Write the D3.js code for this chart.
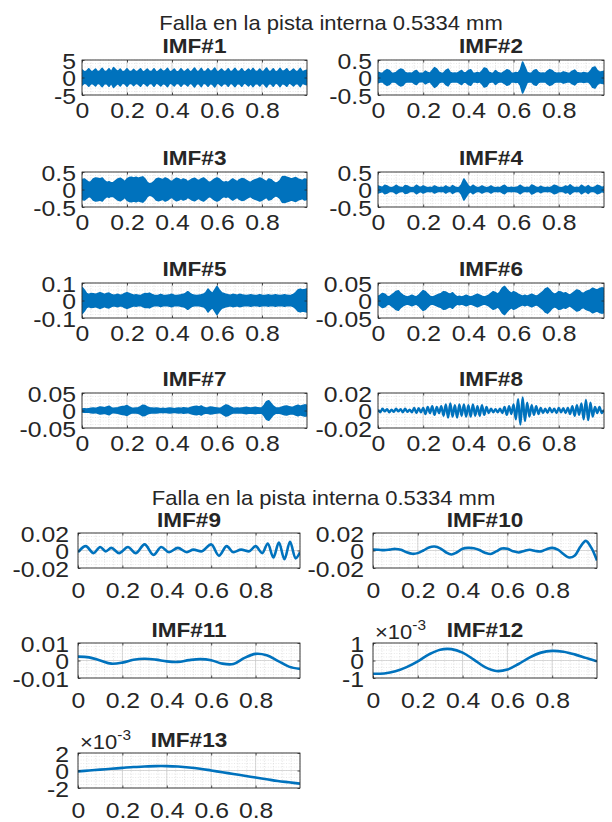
<!DOCTYPE html>
<html><head><meta charset="utf-8">
<script src="https://cdn.jsdelivr.net/npm/d3@7"></script>
<style>
body{margin:0;background:#fff}
text{font-family:"Liberation Sans",Arial,Helvetica,sans-serif;fill:#262626}
</style>
</head><body>
<svg id="c" width="612" height="822" xmlns="http://www.w3.org/2000/svg"></svg>
<script>
// ---------------- DATA ----------------
const figTitle = "Falla en la pista interna 0.5334 mm";
const xTicks = [0, 0.2, 0.4, 0.6, 0.8];
const xTickLabels = ["0", "0.2", "0.4", "0.6", "0.8"];

// envelope amplitudes (dense IMFs drawn as filled bands), sampled every 0.01 s
const imf1Amp = [2.2,1.6,1.8,2.5,1.7,1.8,2.4,1.6,1.9,2.6,1.7,1.8,2.5,1.6,2.8,2.2,1.7,2.4,1.6,1.8,2.5,1.7,1.7,2.3,1.6,1.9,2.5,1.6,1.8,2.4,1.7,1.7,2.5,1.6,1.8,2.4,1.7,1.9,2.6,1.6,1.8,2.4,1.6,1.7,2.5,1.7,1.8,2.4,1.6,1.9,2.7,1.7,1.8,2.6,1.6,1.8,2.5,1.7,1.9,2.7,1.6,1.8,2.4,1.7,1.8,2.5,1.6,1.9,2.6,1.7,1.8,2.5,1.6,1.8,2.4,1.7,2.6,1.8,1.7,2.4,1.6,1.9,2.7,1.7,1.8,2.5,1.6,1.8,2.6,1.7,1.9,2.5,1.6,1.8,2.4,1.7,1.8,2.6,1.6,1.9,2.1];
const imf2Amp = [0.15,0.13,0.12,0.18,0.22,0.2,0.13,0.12,0.14,0.2, 0.24,0.22,0.14,0.12,0.13,0.12,0.17,0.2,0.13,0.12, 0.12,0.18,0.14,0.12,0.2,0.28,0.24,0.15,0.12,0.13, 0.2,0.24,0.14,0.12,0.13,0.12,0.16,0.2,0.13,0.14, 0.2,0.22,0.13,0.12,0.14,0.12,0.18,0.27,0.25,0.15, 0.13,0.12,0.2,0.14,0.12,0.13,0.17,0.22,0.2,0.13, 0.12,0.14,0.13,0.22,0.44,0.3,0.14,0.12,0.13,0.2, 0.22,0.14,0.12,0.13,0.12,0.18,0.22,0.2,0.14,0.12, 0.13,0.12,0.16,0.14,0.12,0.13,0.18,0.21,0.14,0.13, 0.12,0.14,0.13,0.12,0.18,0.28,0.3,0.2,0.15,0.16,0.18];
const imf3Amp = [0.28,0.3,0.25,0.2,0.22,0.3,0.33,0.32,0.3,0.33, 0.25,0.2,0.22,0.19,0.2,0.25,0.3,0.32,0.28,0.22, 0.3,0.34,0.35,0.33,0.35,0.32,0.34,0.36,0.3,0.2, 0.16,0.18,0.22,0.3,0.32,0.3,0.28,0.33,0.3,0.25, 0.22,0.28,0.32,0.3,0.26,0.3,0.28,0.22,0.26,0.3, 0.32,0.28,0.25,0.3,0.33,0.28,0.22,0.2,0.25,0.3, 0.33,0.3,0.24,0.2,0.22,0.2,0.25,0.3,0.26,0.22, 0.28,0.31,0.3,0.26,0.22,0.2,0.25,0.28,0.3,0.33, 0.3,0.26,0.22,0.3,0.28,0.22,0.18,0.2,0.25,0.36, 0.37,0.35,0.33,0.3,0.32,0.34,0.3,0.28,0.26,0.3,0.28];
const imf4Amp = [0.1,0.08,0.06,0.12,0.1,0.06,0.05,0.07,0.12,0.08, 0.06,0.05,0.11,0.1,0.06,0.05,0.06,0.12,0.08,0.06, 0.1,0.07,0.05,0.06,0.05,0.1,0.07,0.05,0.06,0.05, 0.1,0.06,0.05,0.11,0.07,0.05,0.06,0.14,0.3,0.2, 0.1,0.06,0.12,0.08,0.05,0.06,0.1,0.07,0.05,0.06, 0.1,0.06,0.05,0.06,0.05,0.09,0.12,0.06,0.05,0.06, 0.05,0.06,0.08,0.12,0.07,0.05,0.06,0.05,0.13,0.1, 0.06,0.05,0.09,0.06,0.05,0.06,0.05,0.08,0.12,0.1, 0.06,0.05,0.06,0.1,0.07,0.13,0.08,0.05,0.06,0.05, 0.12,0.08,0.06,0.11,0.06,0.05,0.07,0.12,0.1,0.06,0.08];
const imf5Amp = [0.075,0.06,0.04,0.035,0.04,0.038,0.035,0.04,0.045,0.04, 0.035,0.04,0.042,0.035,0.03,0.032,0.035,0.03,0.033,0.04, 0.045,0.04,0.035,0.03,0.032,0.03,0.028,0.035,0.04,0.038, 0.042,0.035,0.03,0.028,0.03,0.035,0.03,0.028,0.03,0.032, 0.035,0.03,0.028,0.03,0.032,0.035,0.04,0.05,0.04,0.032, 0.03,0.028,0.03,0.032,0.035,0.045,0.065,0.05,0.04,0.06, 0.08,0.06,0.045,0.04,0.035,0.032,0.03,0.035,0.033,0.03, 0.035,0.032,0.03,0.028,0.03,0.032,0.03,0.028,0.03,0.033, 0.03,0.028,0.03,0.032,0.028,0.03,0.032,0.03,0.028,0.03, 0.032,0.03,0.028,0.03,0.035,0.045,0.06,0.065,0.06,0.062,0.065];
const imf6Amp = [0.012,0.015,0.02,0.018,0.012,0.01,0.015,0.02,0.026,0.028, 0.02,0.015,0.012,0.01,0.012,0.015,0.012,0.01,0.015,0.022, 0.028,0.025,0.018,0.012,0.01,0.012,0.015,0.018,0.02,0.025, 0.024,0.02,0.018,0.022,0.015,0.01,0.012,0.01,0.012,0.015, 0.012,0.01,0.012,0.015,0.018,0.015,0.012,0.01,0.012,0.015, 0.02,0.025,0.022,0.018,0.025,0.035,0.04,0.032,0.025,0.02, 0.025,0.022,0.018,0.015,0.012,0.015,0.012,0.015,0.018,0.015, 0.012,0.015,0.02,0.025,0.033,0.036,0.03,0.022,0.018,0.02, 0.025,0.024,0.02,0.022,0.018,0.015,0.02,0.025,0.03,0.028, 0.022,0.02,0.025,0.028,0.03,0.035,0.032,0.03,0.034,0.036,0.035];
const imf7Amp = [0.004,0.005,0.004,0.005,0.006,0.007,0.006,0.008,0.01,0.009, 0.008,0.01,0.012,0.008,0.006,0.007,0.008,0.01,0.011,0.012, 0.014,0.01,0.007,0.006,0.007,0.008,0.011,0.015,0.014,0.01, 0.008,0.007,0.006,0.007,0.006,0.005,0.006,0.005,0.006,0.007, 0.006,0.005,0.006,0.007,0.006,0.008,0.007,0.006,0.008,0.01, 0.011,0.012,0.01,0.013,0.009,0.007,0.008,0.01,0.009,0.008, 0.007,0.006,0.008,0.012,0.016,0.014,0.01,0.007,0.006,0.007, 0.006,0.007,0.008,0.009,0.008,0.007,0.008,0.009,0.008,0.007, 0.008,0.015,0.025,0.028,0.02,0.012,0.008,0.007,0.008,0.01, 0.012,0.013,0.011,0.009,0.01,0.013,0.015,0.012,0.014,0.016,0.015];

// IMF#8: successive peaks/troughs, one every 0.01 s
const imf8 = [0.001,-0.002,0.002,-0.001,0.0015,-0.002,0.001,-0.0015,0.002,-0.001, 0.0015,-0.002,0.002,-0.0015,0.001,-0.002,0.003,-0.003,0.0025,-0.002, 0.003,-0.004,0.004,-0.003,0.005,-0.005,0.004,-0.003,0.005,-0.006, 0.007,-0.008,0.008,-0.007,0.006,-0.008,0.007,-0.006,0.007,-0.007, 0.006,-0.007,0.007,-0.006,0.005,-0.006,0.006,-0.005,0.004,-0.003, 0.002,-0.002,0.0015,-0.002,0.002,-0.003,0.004,-0.005,0.005,-0.004, 0.007,-0.01,0.013,-0.016,0.015,-0.012,0.009,-0.007,0.006,-0.005, 0.005,-0.004,0.003,-0.003,0.002,-0.0025,0.003,-0.002,0.002,-0.003, 0.003,-0.002,0.0025,-0.003,0.003,-0.004,0.005,-0.006,0.006,-0.005, 0.008,-0.01,0.012,-0.011,0.009,-0.007,0.004,-0.003,0.004,-0.003,0.001];

// IMF#9: times and values of its peaks and troughs
const imf9T = [0,0.035,0.07,0.1,0.125,0.15,0.185,0.225,0.26,0.3,0.34,0.375,0.41,0.45,0.49,0.52,0.555,0.6,0.635,0.67,0.7,0.735,0.77,0.8,0.83,0.855,0.88,0.905,0.93,0.955,0.98,1.0];
const imf9V = [-0.002,0.005,-0.003,0.004,-0.001,0.003,-0.003,0.004,-0.003,0.007,-0.005,0.004,-0.002,0.003,-0.002,0.001,-0.001,0.007,-0.006,0.005,-0.002,0.001,-0.001,0.005,-0.003,0.008,-0.008,0.009,-0.01,0.01,-0.009,-0.002];

// IMF#10 every 0.025 s
const imf10 = [0.001,0.0008,0.0004,0.001,0.0018,0.0008,-0.002,-0.0038,-0.003,0,0.0035,0.0045,0.0025,-0.002,-0.0045,-0.002,0.002,0.003,0.0025,0.0005,-0.0025,-0.004,-0.001,0.0022,0.002,-0.0008,-0.0022,-0.0005,0.0008,-0.0005,-0.001,0.0015,0.003,0.001,-0.004,-0.008,-0.006,0.004,0.011,0.003,-0.0115];
// IMF#11..#13 every 0.05 s
const imf11 = [0.0022,0.0018,0,-0.0018,-0.0012,0.0004,0.001,0.0005,-0.0005,-0.0008,0.0002,0.0008,0.0002,-0.0018,-0.002,0.0015,0.0038,0.003,-0.0002,-0.0035,-0.0048];
const imf12 = [-0.00076,-0.00074,-0.00062,-0.00038,-0.00005,0.00035,0.00062,0.00065,0.00045,0.00005,-0.00038,-0.0006,-0.00052,-0.0002,0.00018,0.00045,0.00055,0.0005,0.00035,0.00015,-0.00005];
const imf13 = [-0.0001,0.0000,0.0001,0.0002,0.0003,0.0004,0.00045,0.0005,0.0005,0.00045,0.00035,0.0002,0.0000,-0.0002,-0.0004,-0.0006,-0.0008,-0.001,-0.0012,-0.00135,-0.0015];

const yLims = {
  "5":[-5,5], "0.5":[-0.5,0.5], "0.1":[-0.1,0.1], "0.05":[-0.05,0.05],
  "0.02":[-0.02,0.02], "0.01":[-0.01,0.01], "1e-3":[-0.001,0.001], "2e-3":[-0.002,0.002]
};
const yTickLabels = {
  "5":["-5","0","5"], "0.5":["-0.5","0","0.5"], "0.1":["-0.1","0","0.1"], "0.05":["-0.05","0","0.05"],
  "0.02":["-0.02","0","0.02"], "0.01":["-0.01","0","0.01"], "1e-3":["-1","0","1"], "2e-3":["-2","0","2"]
};

// ---------------- LAYOUT ----------------
const C = "#0072BD";
const SX = 1.1;        // horizontal stretch of the text in the reference
const H = 35;
const figs = [
  {cols:[[82,307],[378,604]], rows:[60,172,283,393], titleX:331, titleY:30, tickOff:23, labGap:6, ttlOff:7},
  {cols:[[78,300],[373,597]], rows:[533,643,753], titleX:323.5, titleY:505, tickOff:30, labGap:9, ttlOff:6}
];
const panels = [
  {n:"IMF#1",f:0,c:0,r:0,kind:"band",d:imf1Amp,s:"5"},
  {n:"IMF#2",f:0,c:1,r:0,kind:"band",d:imf2Amp,s:"0.5"},
  {n:"IMF#3",f:0,c:0,r:1,kind:"band",d:imf3Amp,s:"0.5"},
  {n:"IMF#4",f:0,c:1,r:1,kind:"band",d:imf4Amp,s:"0.5"},
  {n:"IMF#5",f:0,c:0,r:2,kind:"band",d:imf5Amp,s:"0.1"},
  {n:"IMF#6",f:0,c:1,r:2,kind:"band",d:imf6Amp,s:"0.05"},
  {n:"IMF#7",f:0,c:0,r:3,kind:"band",d:imf7Amp,s:"0.05"},
  {n:"IMF#8",f:0,c:1,r:3,kind:"wave",d:imf8,s:"0.02"},
  {n:"IMF#9",f:1,c:0,r:0,kind:"xy",t:imf9T,d:imf9V,s:"0.02"},
  {n:"IMF#10",f:1,c:1,r:0,kind:"line",d:imf10,s:"0.02"},
  {n:"IMF#11",f:1,c:0,r:1,kind:"line",d:imf11,s:"0.01"},
  {n:"IMF#12",f:1,c:1,r:1,kind:"line",d:imf12,s:"1e-3",exp:true},
  {n:"IMF#13",f:1,c:0,r:2,kind:"line",d:imf13,s:"2e-3",exp:true}
];

const svg = d3.select("#c");
svg.append("rect").attr("width",612).attr("height",822).attr("fill","#fff");

function label(g, x, y, str, size, anchor, weight) {
  return g.append("text")
    .attr("transform", `translate(${x},${y}) scale(${SX},1)`)
    .attr("text-anchor", anchor || "middle")
    .attr("font-size", size)
    .attr("font-weight", weight || "normal")
    .text(str);
}

figs.forEach(F => label(svg, F.titleX, F.titleY, figTitle, 20, "middle"));

panels.forEach((p, i) => {
  const F = figs[p.f];
  const [x0, x1] = F.cols[p.c];
  const y0 = F.rows[p.r];
  const lim = yLims[p.s];
  const x = d3.scaleLinear().domain([0, 1]).range([x0, x1]);
  const y = d3.scaleLinear().domain(lim).range([y0 + H, y0]);
  const g = svg.append("g");
  const yMajor = [lim[0], 0, lim[1]];

  // grid: minor (dotted) then major
  const xMinor = d3.range(0, 1.0001, 0.04);
  const yMinor = d3.range(lim[0], lim[1] + 1e-12, (lim[1] - lim[0]) / 10);
  g.append("g").selectAll("line").data(xMinor).join("line")
    .attr("x1", d => x(d)).attr("x2", d => x(d)).attr("y1", y0).attr("y2", y0 + H)
    .attr("stroke", "#cfcfcf").attr("stroke-width", 0.6).attr("stroke-dasharray", "1,1.6");
  g.append("g").selectAll("line").data(yMinor).join("line")
    .attr("y1", d => y(d)).attr("y2", d => y(d)).attr("x1", x0).attr("x2", x1)
    .attr("stroke", "#d6d6d6").attr("stroke-width", 0.6).attr("stroke-dasharray", "1,1.6");
  g.append("g").selectAll("line").data(xTicks.concat([1])).join("line")
    .attr("x1", d => x(d)).attr("x2", d => x(d)).attr("y1", y0).attr("y2", y0 + H)
    .attr("stroke", "#c8c8c8").attr("stroke-width", 0.7);
  g.append("g").selectAll("line").data(yMajor).join("line")
    .attr("y1", d => y(d)).attr("y2", d => y(d)).attr("x1", x0).attr("x2", x1)
    .attr("stroke", "#c8c8c8").attr("stroke-width", 0.7);

  // data
  const clipId = "clip" + i;
  svg.append("clipPath").attr("id", clipId).append("rect")
    .attr("x", x0).attr("y", y0 - 1).attr("width", x1 - x0).attr("height", H + 2);
  const dg = g.append("g").attr("clip-path", `url(#${clipId})`);
  const n = p.d.length;
  if (p.kind === "band") {
    const area = d3.area()
      .x((d, k) => x(k / (n - 1)))
      .y0(d => y(-d)).y1(d => y(d));
    dg.append("path").attr("d", area(p.d))
      .attr("fill", C).attr("stroke", C).attr("stroke-width", 1.6).attr("stroke-linejoin", "round");
  } else if (p.kind === "wave") {
    const line = d3.line().x((d, k) => x(k / (n - 1))).y(d => y(d)).curve(d3.curveMonotoneX);
    dg.append("path").attr("d", line(p.d)).attr("fill", "none")
      .attr("stroke", C).attr("stroke-width", 2.4);
  } else if (p.kind === "xy") {
    const line = d3.line().x((d, k) => x(p.t[k])).y(d => y(d)).curve(d3.curveMonotoneX);
    dg.append("path").attr("d", line(p.d)).attr("fill", "none")
      .attr("stroke", C).attr("stroke-width", 2.6);
  } else {
    const line = d3.line().x((d, k) => x(k / (n - 1))).y(d => y(d)).curve(d3.curveCatmullRom);
    dg.append("path").attr("d", line(p.d)).attr("fill", "none")
      .attr("stroke", C).attr("stroke-width", 2.6);
  }

  // axes (ticks inward on all four sides)
  const labs = yTickLabels[p.s];
  const ax = g.append("g").attr("transform", `translate(0,${y0 + H})`)
    .call(d3.axisBottom(x).tickValues(xTicks).tickSizeInner(-2.5).tickSizeOuter(0)
      .tickFormat((d, k) => xTickLabels[k]));
  ax.selectAll("text").attr("y", null).attr("dy", null)
    .attr("transform", `translate(0,${F.tickOff}) scale(${SX},1)`)
    .attr("font-size", 22.5).attr("font-family", null).attr("fill", "#262626");
  g.append("g").attr("transform", `translate(0,${y0})`)
    .call(d3.axisTop(x).tickValues(xTicks).tickSizeInner(-2.5).tickSizeOuter(0).tickFormat(""));
  const ay = g.append("g").attr("transform", `translate(${x0},0)`)
    .call(d3.axisLeft(y).tickValues(yMajor).tickSizeInner(-2.5).tickSizeOuter(0)
      .tickFormat((d, k) => labs[k]));
  ay.selectAll("text").attr("x", null).attr("dy", null)
    .attr("transform", `translate(${-F.labGap},8) scale(${SX},1)`)
    .attr("font-size", 22.5).attr("font-family", null).attr("fill", "#262626");
  g.append("g").attr("transform", `translate(${x1},0)`)
    .call(d3.axisRight(y).tickValues(yMajor).tickSizeInner(-2.5).tickSizeOuter(0).tickFormat(""));
  g.selectAll(".domain").remove();
  g.selectAll(".tick line").attr("stroke", "#262626").attr("stroke-width", 0.8);
  g.append("rect").attr("x", x0).attr("y", y0).attr("width", x1 - x0).attr("height", H)
    .attr("fill", "none").attr("stroke", "#262626").attr("stroke-width", 0.8);

  // title
  label(g, (x0 + x1) / 2, y0 - F.ttlOff, p.n, 20.5, "middle", "bold");
  if (p.exp) {
    const t = g.append("text")
      .attr("transform", `translate(${x0 + 2},${y0 - 4}) scale(${SX},1)`)
      .attr("font-size", 20);
    t.append("tspan").text("\u00d710");
    t.append("tspan").attr("font-size", 14).attr("dy", -9).text("-3");
  }
});
</script>
</body></html>
